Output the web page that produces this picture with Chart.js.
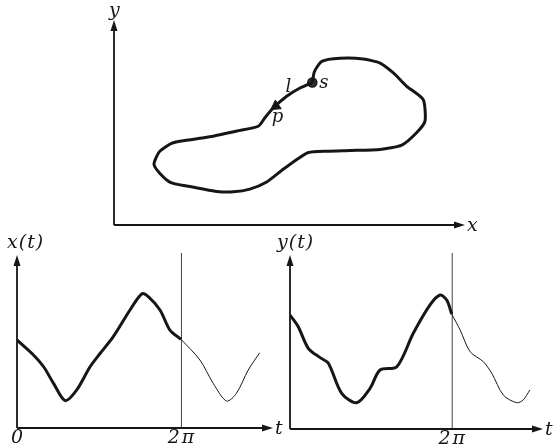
<!DOCTYPE html>
<html>
<head>
<meta charset="utf-8">
<script src="https://cdn.jsdelivr.net/npm/chart.js@4.4.0/dist/chart.umd.min.js"></script>
<style>
  html, body { margin: 0; padding: 0; background: #fff; }
  #wrap { position: relative; width: 553px; height: 446px; overflow: hidden; }
  canvas { position: absolute; }
</style>
</head>
<body>
<div id="wrap">
  <canvas id="loop" style="left:0px;top:0px" width="553" height="232"></canvas>
  <canvas id="waveX" style="left:0px;top:232px" width="285" height="214"></canvas>
  <canvas id="waveY" style="left:270px;top:232px" width="283" height="214"></canvas>
</div>
<script>
// top: closed curve, starting at s
const loopX = [5.65, 5.71, 5.92, 6.44, 7.10, 7.58, 7.96, 8.34, 8.81, 8.86, 8.62, 8.20, 7.58, 6.72, 6.06,
  5.54, 5.21, 4.82, 4.35, 3.87, 3.40, 2.93, 2.45, 2.07, 1.62, 1.31, 1.14, 1.29, 1.64, 2.07, 2.83, 3.50,
  4.11, 4.30, 4.54, 4.92, 5.30, 5.65];
const loopY = [4.17, 4.49, 4.79, 4.88, 4.86, 4.74, 4.45, 4.06, 3.67, 3.04, 2.70, 2.34, 2.21, 2.18, 2.16,
  2.12, 1.92, 1.63, 1.26, 1.05, 0.97, 0.98, 1.07, 1.14, 1.24, 1.51, 1.78, 2.14, 2.39, 2.48, 2.60, 2.75,
  2.89, 3.14, 3.43, 3.77, 4.01, 4.17];
const startPt = [5.65, 4.17];
const arrowPt = [4.61, 3.48];
const noteText = ['s', 'l', 'p'];
const noteX = [5.98, 4.97, 4.66];
const noteY = [4.15, 4.02, 3.15];

// bottom left: x(t)
const tX = [0, 0.63, 1.02, 1.40, 1.85, 2.29, 2.80, 3.19, 3.69, 4.33, 4.78, 5.03, 5.48, 5.86, 6.283];
const xVals = [5.09, 4.22, 3.54, 2.58, 1.58, 2.20, 3.54, 4.32, 5.28, 6.82, 7.75, 7.59, 6.82, 5.66, 5.13];
const tXCont = [6.283, 7.01, 7.52, 8.03, 8.41, 8.86, 9.30];
const xValsCont = [5.13, 3.93, 2.58, 1.56, 2.01, 3.35, 4.35];

// bottom right: y(t)
const tY = [0, 0.32, 0.71, 1.17, 1.49, 2.01, 2.59, 3.11, 3.50, 4.15, 4.79, 5.44, 5.83, 6.09, 6.283];
const yVals = [6.55, 5.88, 4.64, 4.10, 3.78, 2.05, 1.51, 2.34, 3.39, 3.58, 5.50, 7.13, 7.70, 7.41, 6.61];
const tYCont = [6.283, 6.61, 7.00, 7.51, 7.84, 8.29, 8.81, 9.06, 9.32];
const yValsCont = [6.61, 5.69, 4.44, 3.87, 3.20, 1.95, 1.51, 1.67, 2.24];

const tickT = [0, 2 * Math.PI];
const ticksX = ['0', '2π'];
const ticksY = ['', '2π'];

const INK = '#161616';
const FONT = '"DejaVu Serif", "Liberation Serif", serif';

const pts = (xs, ys) => xs.map((x, i) => ({ x, y: ys[i] }));

function tri(ctx, x, y, dir) {
  ctx.beginPath();
  if (dir === 'up') {
    ctx.moveTo(x, y); ctx.lineTo(x - 3.5, y + 11); ctx.lineTo(x + 3.5, y + 11);
  } else {
    ctx.moveTo(x, y); ctx.lineTo(x - 11, y - 3.5); ctx.lineTo(x - 11, y + 3.5);
  }
  ctx.closePath();
  ctx.fill();
}

const arrowAxes = {
  id: 'arrowAxes',
  beforeDatasetsDraw(chart, args, opts) {
    const { ctx, chartArea: a, scales } = chart;
    ctx.save();
    ctx.strokeStyle = INK;
    ctx.fillStyle = INK;

    // marker line at 2π
    if (opts.mark !== undefined) {
      const mx = scales.x.getPixelForValue(opts.mark);
      ctx.strokeStyle = '#444';
      ctx.lineWidth = 1;
      ctx.beginPath();
      ctx.moveTo(mx + 0.5, a.bottom);
      ctx.lineTo(mx + 0.5, a.top - 2);
      ctx.stroke();
      ctx.strokeStyle = INK;
    }

    ctx.lineWidth = 1.8;
    ctx.beginPath();
    ctx.moveTo(a.left, a.bottom);
    ctx.lineTo(a.left, a.top + 6);
    ctx.moveTo(a.left, a.bottom);
    ctx.lineTo(a.right - 6, a.bottom);
    ctx.stroke();
    tri(ctx, a.left, a.top, 'up');
    tri(ctx, a.right, a.bottom, 'right');

    ctx.font = 'italic 19px ' + FONT;
    ctx.letterSpacing = '1px';
    ctx.textBaseline = 'middle';
    ctx.textAlign = 'left';
    ctx.fillText(opts.yLabel, a.left + opts.yDx, a.top + opts.yDy);
    ctx.fillText(opts.xLabel, a.right + opts.xDx, a.bottom + 1);

    if (opts.ticks) {
      ctx.letterSpacing = '2px';
      ctx.textAlign = 'center';
      ctx.textBaseline = 'alphabetic';
      tickT.forEach((t, i) => {
        if (!opts.ticks[i]) return;
        ctx.fillText(opts.ticks[i], scales.x.getPixelForValue(t) + 1, a.bottom + 15);
      });
    }
    ctx.restore();
  },
  afterDatasetsDraw(chart, args, opts) {
    if (!opts.notes) return;
    const { ctx, scales } = chart;
    ctx.save();
    ctx.fillStyle = INK;
    ctx.font = 'italic 18px ' + FONT;
    ctx.textAlign = 'center';
    ctx.textBaseline = 'middle';
    opts.notes.forEach((s, i) => {
      ctx.fillText(s, scales.x.getPixelForValue(noteX[i]), scales.y.getPixelForValue(noteY[i]));
    });
    ctx.restore();
  }
};

function baseOptions(padding, xMax, yMax, axes) {
  return {
    responsive: false,
    animation: false,
    events: [],
    layout: { padding },
    scales: {
      x: { type: 'linear', display: false, min: 0, max: xMax },
      y: { type: 'linear', display: false, min: 0, max: yMax }
    },
    plugins: { legend: { display: false }, tooltip: { enabled: false }, arrowAxes: axes }
  };
}

new Chart(document.getElementById('loop'), {
  type: 'scatter',
  data: {
    datasets: [
      {
        data: pts(loopX, loopY), showLine: true, borderColor: INK, borderWidth: 3,
        pointRadius: 0, tension: 0.2, borderJoinStyle: 'round'
      },
      {
        data: [{ x: startPt[0], y: startPt[1] }], pointRadius: 4.5,
        pointBackgroundColor: '#333', pointBorderColor: INK, pointBorderWidth: 1.5
      },
      {
        data: [{ x: arrowPt[0], y: arrowPt[1] }], pointStyle: 'triangle', rotation: 236,
        pointRadius: 6, pointBackgroundColor: INK, pointBorderColor: INK, pointBorderWidth: 1
      }
    ]
  },
  options: baseOptions({ left: 114, right: 88, top: 20, bottom: 6 }, 10, 6,
    { yLabel: 'y', yDx: -5, yDy: -9, xLabel: 'x', xDx: 2, notes: noteText }),
  plugins: [arrowAxes]
});

function wave(id, tA, vA, tB, vB, pad, tMax, yLabel, yDx, ticks) {
  new Chart(document.getElementById(id), {
    type: 'scatter',
    data: {
      datasets: [
        { data: pts(tA, vA), showLine: true, borderColor: INK, borderWidth: 3, pointRadius: 0, tension: 0.3 },
        { data: pts(tB, vB), showLine: true, borderColor: INK, borderWidth: 1, pointRadius: 0, tension: 0.3 }
      ]
    },
    options: baseOptions(pad, tMax, 10,
      { yLabel, yDx, yDy: -12, xLabel: 't', xDx: 2, mark: 2 * Math.PI, ticks }),
    plugins: [arrowAxes]
  });
}

wave('waveX', tX, xVals, tXCont, xValsCont, { left: 17, right: 12, top: 23, bottom: 18 }, 9.81, 'x(t)', -10, ticksX);
wave('waveY', tY, yVals, tYCont, yValsCont, { left: 20, right: 10, top: 23, bottom: 17 }, 9.83, 'y(t)', -13, ticksY);
</script>
</body>
</html>
